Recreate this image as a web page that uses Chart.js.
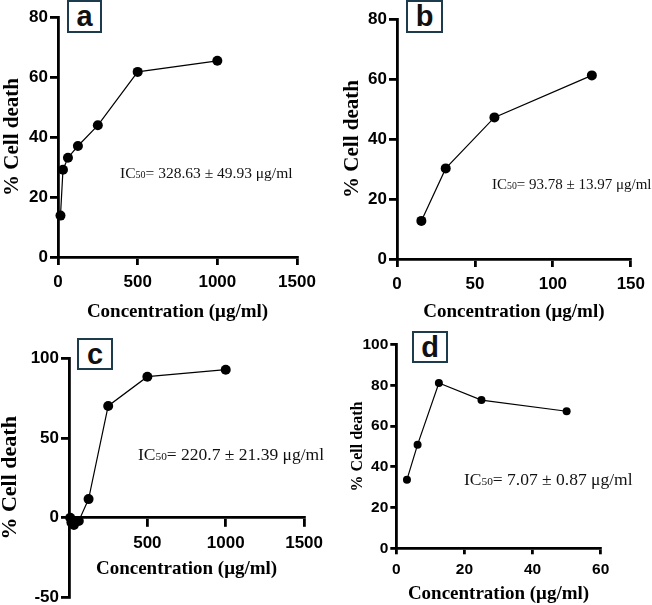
<!DOCTYPE html>
<html>
<head>
<meta charset="utf-8">
<script src="https://cdn.jsdelivr.net/npm/chart.js@4.4.1/dist/chart.umd.min.js"></script>
<style>
  body { margin: 0; background: #fff; }
  #wrap { position: relative; width: 652px; height: 605px; overflow: hidden; }
  canvas { position: absolute; }
  .tag {
    position: absolute; box-sizing: border-box; border: 2.5px solid #1c3b4c;
    font: bold 29px "Liberation Sans", Arial, sans-serif; color: #111; background: #fff;
    display: flex; align-items: center; justify-content: center; line-height: 1;
  }
  .ic { position: absolute; font-family: "Liberation Serif", "Times New Roman", serif; color: #111; white-space: nowrap; line-height: 1; }
  .ic span { font-size: 0.65em; }
</style>
</head>
<body>
<div id="wrap">
  <canvas id="chartA" width="326" height="330" style="left:0;top:0"></canvas>
  <canvas id="chartB" width="326" height="330" style="left:326px;top:0"></canvas>
  <canvas id="chartC" width="330" height="280" style="left:0;top:330px"></canvas>
  <canvas id="chartD" width="326" height="275" style="left:326px;top:330px"></canvas>

  <div class="tag" style="left:67px;top:0;width:35px;height:33px">a</div>
  <div class="tag" style="left:406px;top:0;width:37px;height:33px">b</div>
  <div class="tag" style="left:77px;top:338px;width:36px;height:32px">c</div>
  <div class="tag" style="left:412px;top:331px;width:36px;height:32px">d</div>

  <div class="ic" style="left:120px;top:165px;font-size:15.5px">IC<span>50</span>= 328.63 ± 49.93 μg/ml</div>
  <div class="ic" style="left:492px;top:177px;font-size:15px">IC<span>50</span>= 93.78 ± 13.97 μg/ml</div>
  <div class="ic" style="left:138px;top:446px;font-size:17.5px">IC<span>50</span>= 220.7 ± 21.39 μg/ml</div>
  <div class="ic" style="left:464px;top:471px;font-size:17.5px">IC<span>50</span>= 7.07 ± 0.87 μg/ml</div>
</div>

<script>
// concentrations (µg/ml) and % cell death
const concA = [15.625, 31.25, 62.5, 125, 250, 500, 1000];
const deathA = [13.8, 29.1, 33.1, 37.0, 43.9, 61.7, 65.4];
const concB = [15.625, 31.25, 62.5, 125];
const deathB = [12.7, 30.2, 47.2, 61.2];
const concC = [7.8125, 15.625, 31.25, 62.5, 125, 250, 500, 1000];
const deathC = [0, -3, -4.5, -2, 11.7, 70, 88.3, 92.7];
const concD = [3.125, 6.25, 12.5, 25, 50];
const deathD = [33.7, 50.9, 81.2, 72.8, 67.3];

// tick labels
const xTicksA = [0, 500, 1000, 1500];
const yTicksA = [0, 20, 40, 60, 80];
const xTicksB = [0, 50, 100, 150];
const yTicksB = [0, 20, 40, 60, 80];
const xTicksC = [0, 500, 1000, 1500];
const yTicksC = [-50, 0, 50, 100];
const xTicksD = [0, 20, 40, 60];
const yTicksD = [0, 20, 40, 60, 80, 100];

const xTitle = "Concentration (μg/ml)";
const yTitle = "% Cell death";

function panel(id, conc, death, xTicks, yTicks, o) {
  const tickFont = { family: "Liberation Sans", weight: "bold", size: o.tick };
  return new Chart(document.getElementById(id), {
    type: "scatter",
    data: {
      datasets: [{
        data: conc.map((c, i) => ({ x: c, y: death[i] })),
        showLine: true,
        borderColor: "#000",
        borderWidth: 1.2,
        pointRadius: o.r,
        pointHoverRadius: o.r,
        pointBackgroundColor: "#000",
        pointBorderWidth: 0,
        clip: false
      }]
    },
    options: {
      responsive: false,
      animation: false,
      devicePixelRatio: 1,
      layout: { padding: o.pad },
      plugins: { legend: { display: false }, tooltip: { enabled: false } },
      scales: {
        x: {
          type: "linear",
          position: o.xPos || "bottom",
          min: xTicks[0],
          max: xTicks[xTicks.length - 1],
          afterBuildTicks: s => { s.ticks = xTicks.map(v => ({ value: v })); },
          afterFit: s => { s.height = o.xH; },
          grid: { drawOnChartArea: false, color: "#000", lineWidth: 2.8, tickLength: o.tl },
          border: { color: "#000", width: 2.8 },
          ticks: {
            color: "#000", font: tickFont, padding: o.xtp, maxRotation: 0,
            callback: v => (o.hideXZero && v === 0) ? "" : String(v)
          },
          title: {
            display: true, text: xTitle, color: "#000",
            font: { family: "Liberation Serif", weight: "bold", size: 19, lineHeight: 1 },
            padding: { top: 0, bottom: o.xtb }
          }
        },
        y: {
          type: "linear",
          min: yTicks[0],
          max: yTicks[yTicks.length - 1],
          afterBuildTicks: s => { s.ticks = yTicks.map(v => ({ value: v })); },
          afterFit: s => { s.width = o.yW; },
          grid: { drawOnChartArea: false, color: "#000", lineWidth: 2.8, tickLength: o.tl },
          border: { color: "#000", width: 2.8 },
          ticks: { color: "#000", font: tickFont, padding: 2 },
          title: {
            display: true, text: yTitle, color: "#000",
            font: { family: "Liberation Serif", weight: "bold", size: o.yts, lineHeight: 1 },
            padding: { top: o.ytp, bottom: 0 }
          }
        }
      }
    }
  });
}

panel("chartA", concA, deathA, xTicksA, yTicksA, {
  r: 5, tick: 17, tl: 8, xtp: 7, xH: 73, yW: 58, xtb: 8.5, yts: 21, ytp: 2.5,
  pad: { left: 0, top: 17, right: 29, bottom: 0 }
});
panel("chartB", concB, deathB, xTicksB, yTicksB, {
  r: 5, tick: 17, tl: 8, xtp: 7, xH: 71, yW: 71, xtb: 8.5, yts: 21, ytp: 16,
  pad: { left: 0, top: 19, right: 15, bottom: 0 }
});
panel("chartC", concC, deathC, xTicksC, yTicksC, {
  r: 5, tick: 17, tl: 8, xtp: 7, xH: 70, yW: 69, xtb: 9.5, yts: 22, ytp: -1,
  xPos: { y: 0 }, hideXZero: true,
  pad: { left: 0, top: 28, right: 22, bottom: 12.3 }
});
panel("chartD", concD, deathD, xTicksD, yTicksD, {
  r: 4, tick: 15.5, tl: 6, xtp: 6, xH: 56.7, yW: 70.3, xtb: 1.5, yts: 16, ytp: 24,
  pad: { left: 0, top: 14.7, right: 51.3, bottom: 0 }
});
</script>
</body>
</html>
